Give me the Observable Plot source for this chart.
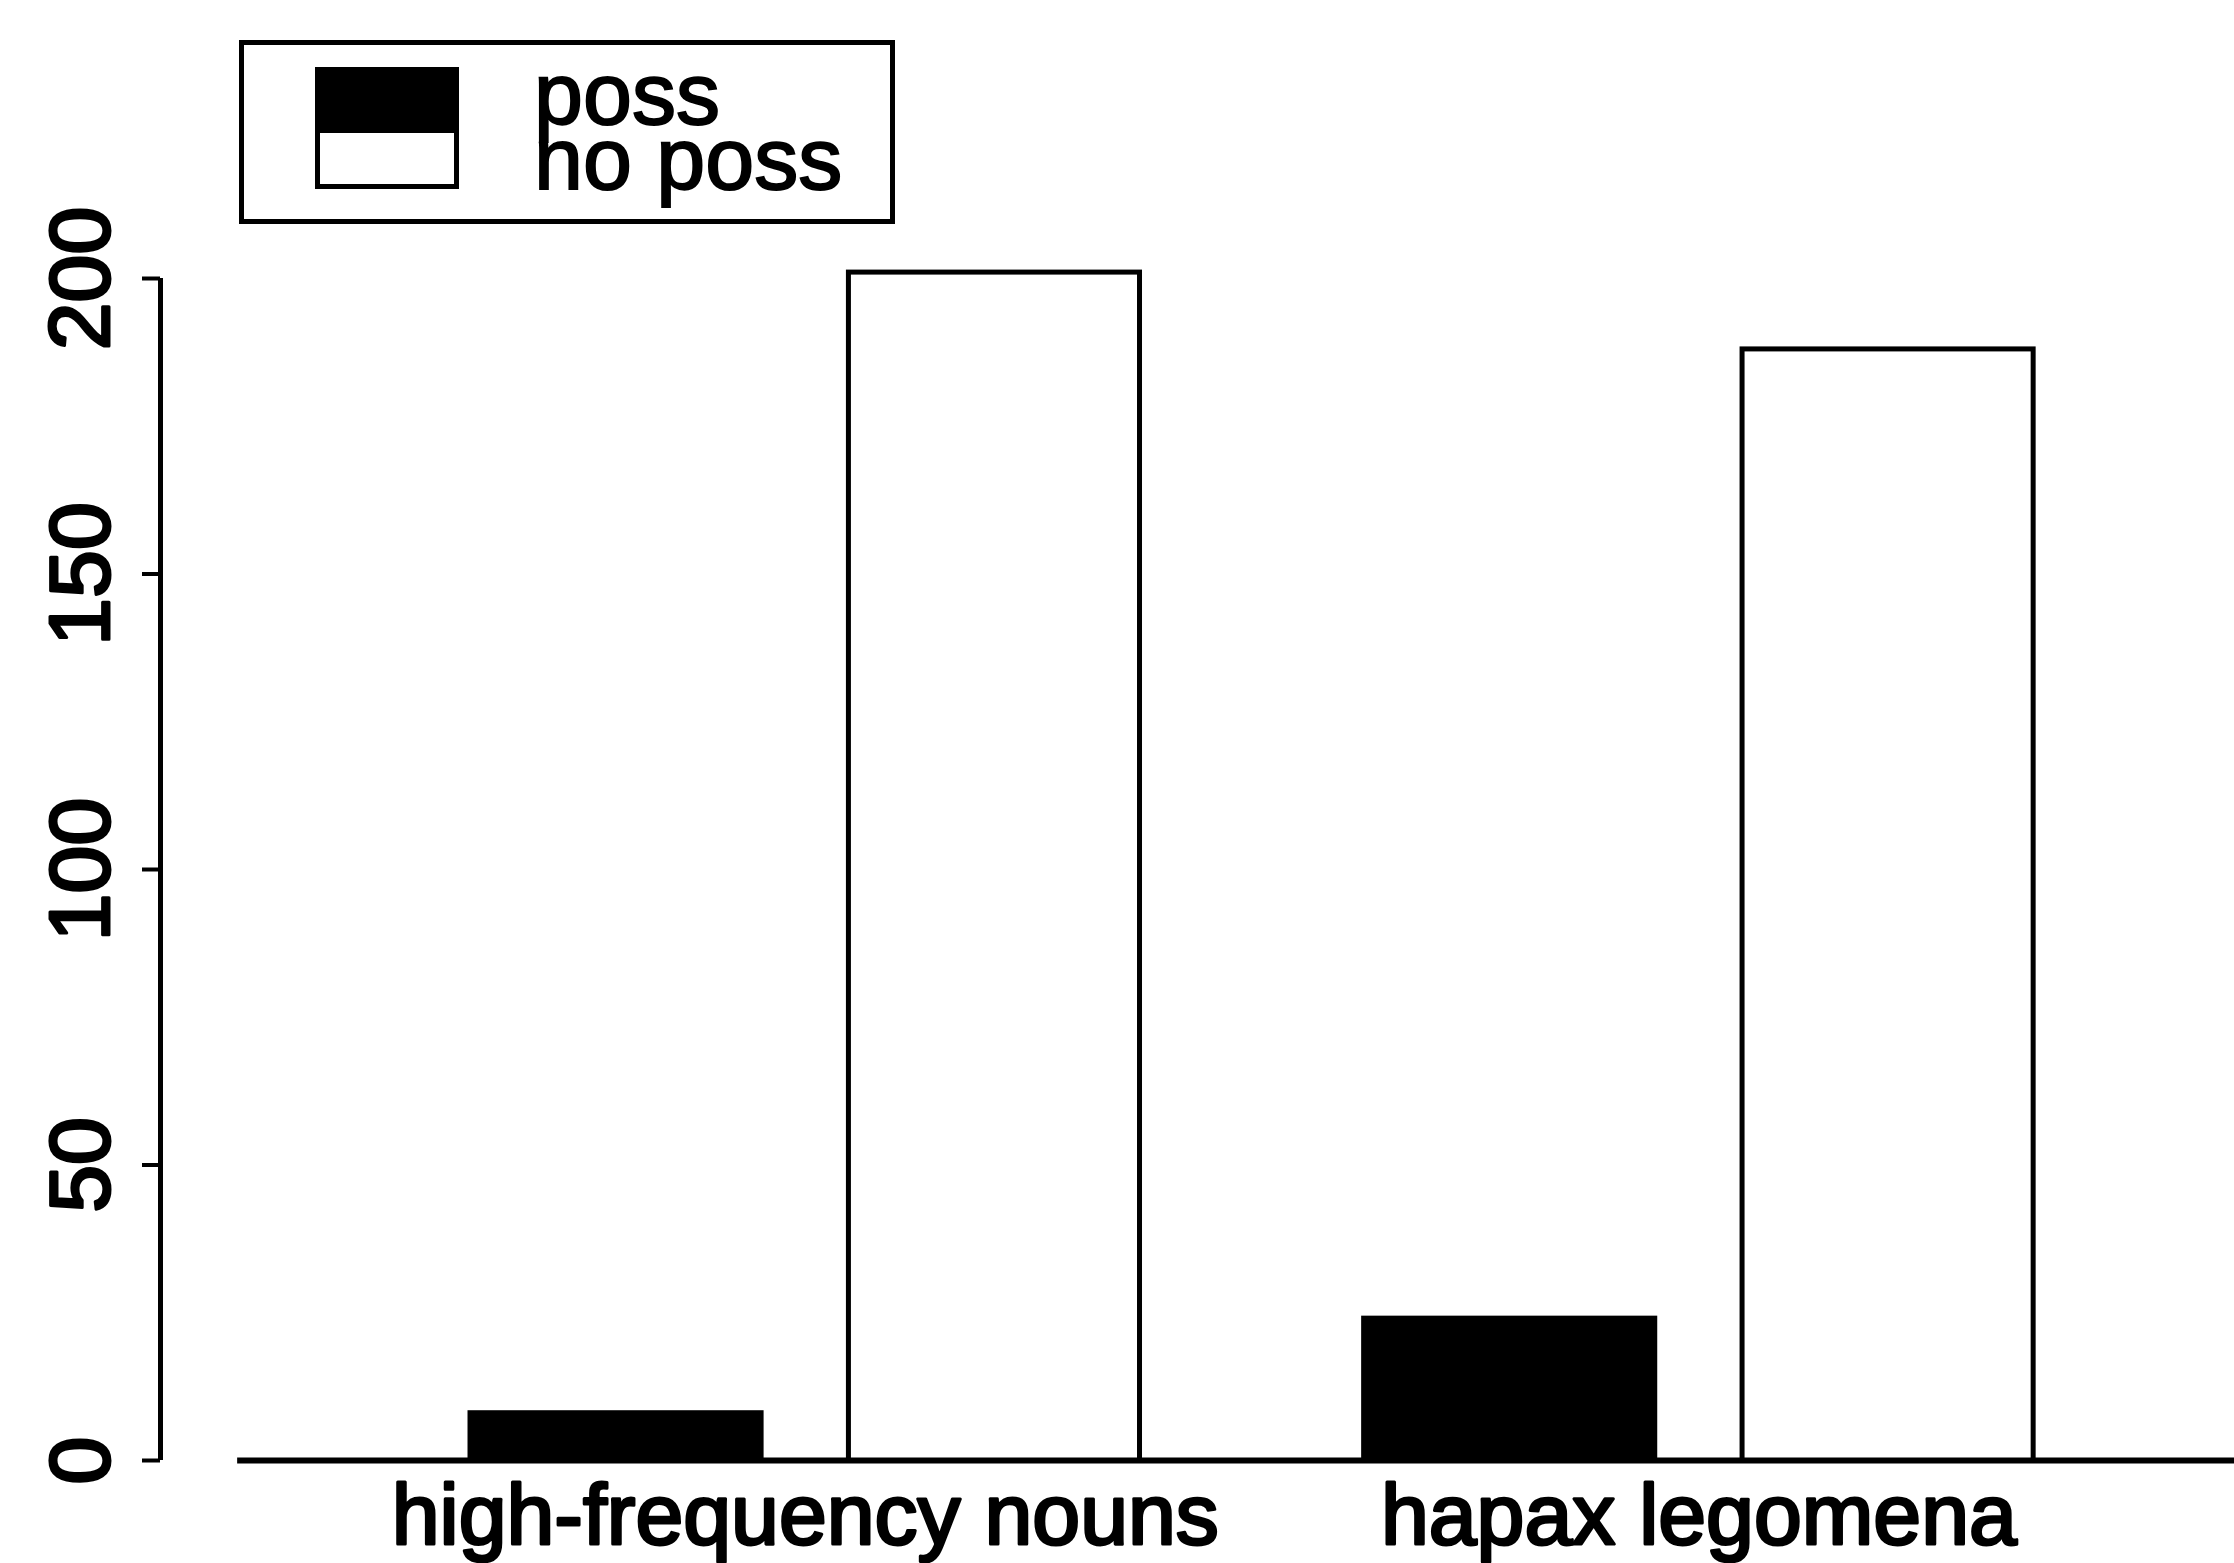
<!DOCTYPE html>
<html>
<head>
<meta charset="utf-8">
<script src="https://cdn.jsdelivr.net/npm/d3@7"></script>
<script src="https://cdn.jsdelivr.net/npm/@observablehq/plot@0.6"></script>
<style>
  html, body { margin: 0; padding: 0; background: #fff; }
  #wrap { position: relative; width: 2234px; height: 1563px; overflow: hidden; background: #fff; }
  #legend { position: absolute; left: 239px; top: 40px; width: 656px; height: 184px;
            border: 5px solid #000; box-sizing: border-box; background: #fff;
            font-family: "Liberation Sans", Arial, sans-serif; }
  .sw { position: absolute; left: 71px; width: 144px; height: 61px; border: 5px solid #000; box-sizing: border-box; }
  .lt { position: absolute; left: 290px; font-size: 88px; line-height: 60px; height: 60px; color: #000;
        white-space: nowrap; -webkit-text-stroke: 2px #000; }
</style>
</head>
<body>
<div id="wrap">
  <div id="chart"></div>
  <div id="legend"></div>
</div>
<script>
// ---- data ----
const categories = ["high-frequency nouns", "hapax legomena"];
const series = ["poss", "no poss"];
const possValues = [8, 24];
const noPossValues = [201, 188];
const yTicks = [0, 50, 100, 150, 200];
const seriesColors = ["black", "white"];

// ---- layout (R barplot style, in bar-width units) ----
const barWidth = 1, spaceWithin = 0.3, spaceBetween = 0.77;
const values = [possValues, noPossValues];
const rows = [];
const groups = [];
let cursor = 0;
categories.forEach((cat, i) => {
  if (i > 0) cursor += spaceBetween;
  const start = cursor;
  series.forEach((s, j) => {
    if (j > 0) cursor += spaceWithin;
    rows.push({category: cat, series: s, value: values[j][i], x1: cursor, x2: cursor + barWidth});
    cursor += barWidth;
  });
  groups.push({category: cat, center: (start + cursor) / 2});
});
const xMin = -1.065;
const xMax = cursor + 0.69;
const baselineStart = -0.80;

const font = "Liberation Sans, Arial, sans-serif";

const chart = Plot.plot({
  width: 2234,
  height: 1563,
  marginLeft: 160,
  marginRight: 0,
  marginTop: 278,
  marginBottom: 103,
  style: {fontFamily: font, background: "white"},
  x: {type: "linear", domain: [xMin, xMax], axis: null},
  y: {domain: [0, 200], axis: null},
  color: {domain: series, range: seriesColors},
  marks: [
    Plot.ruleY([0], {x1: baselineStart, x2: xMax, stroke: "black", strokeWidth: 6}),
    Plot.rectY(rows, {x1: "x1", x2: "x2", y1: 0, y2: "value", fill: "series", stroke: "black", strokeWidth: 5}),
    Plot.ruleX([xMin], {x: d => d, y1: 0, y2: 200, stroke: "black", strokeWidth: 5}),
    Plot.ruleY(yTicks, {y: d => d, x1: xMin, x2: xMin, insetLeft: -18, stroke: "black", strokeWidth: 4}),
    Plot.text(yTicks, {y: d => d, text: d => String(d), frameAnchor: "left", dx: -52, rotate: -90,
      textAnchor: "middle", lineAnchor: "bottom", fontSize: 86, fill: "black", stroke: "black", strokeWidth: 3}),
    Plot.text(groups, {x: "center", text: "category", frameAnchor: "bottom", lineAnchor: "top", dy: 22,
      textAnchor: "middle", fontSize: 86, fill: "black", stroke: "black", strokeWidth: 3})
  ]
});
document.getElementById("chart").appendChild(chart);

// ---- legend ----
const legend = document.getElementById("legend");
const lineTops = [18.5, 83.5];
const swatchTops = [22, 83];
series.forEach((s, i) => {
  const sw = document.createElement("div");
  sw.className = "sw";
  sw.style.top = swatchTops[i] + "px";
  sw.style.background = seriesColors[i];
  legend.appendChild(sw);
  const t = document.createElement("div");
  t.className = "lt";
  t.style.top = lineTops[i] + "px";
  t.textContent = s;
  legend.appendChild(t);
});
</script>
</body>
</html>
